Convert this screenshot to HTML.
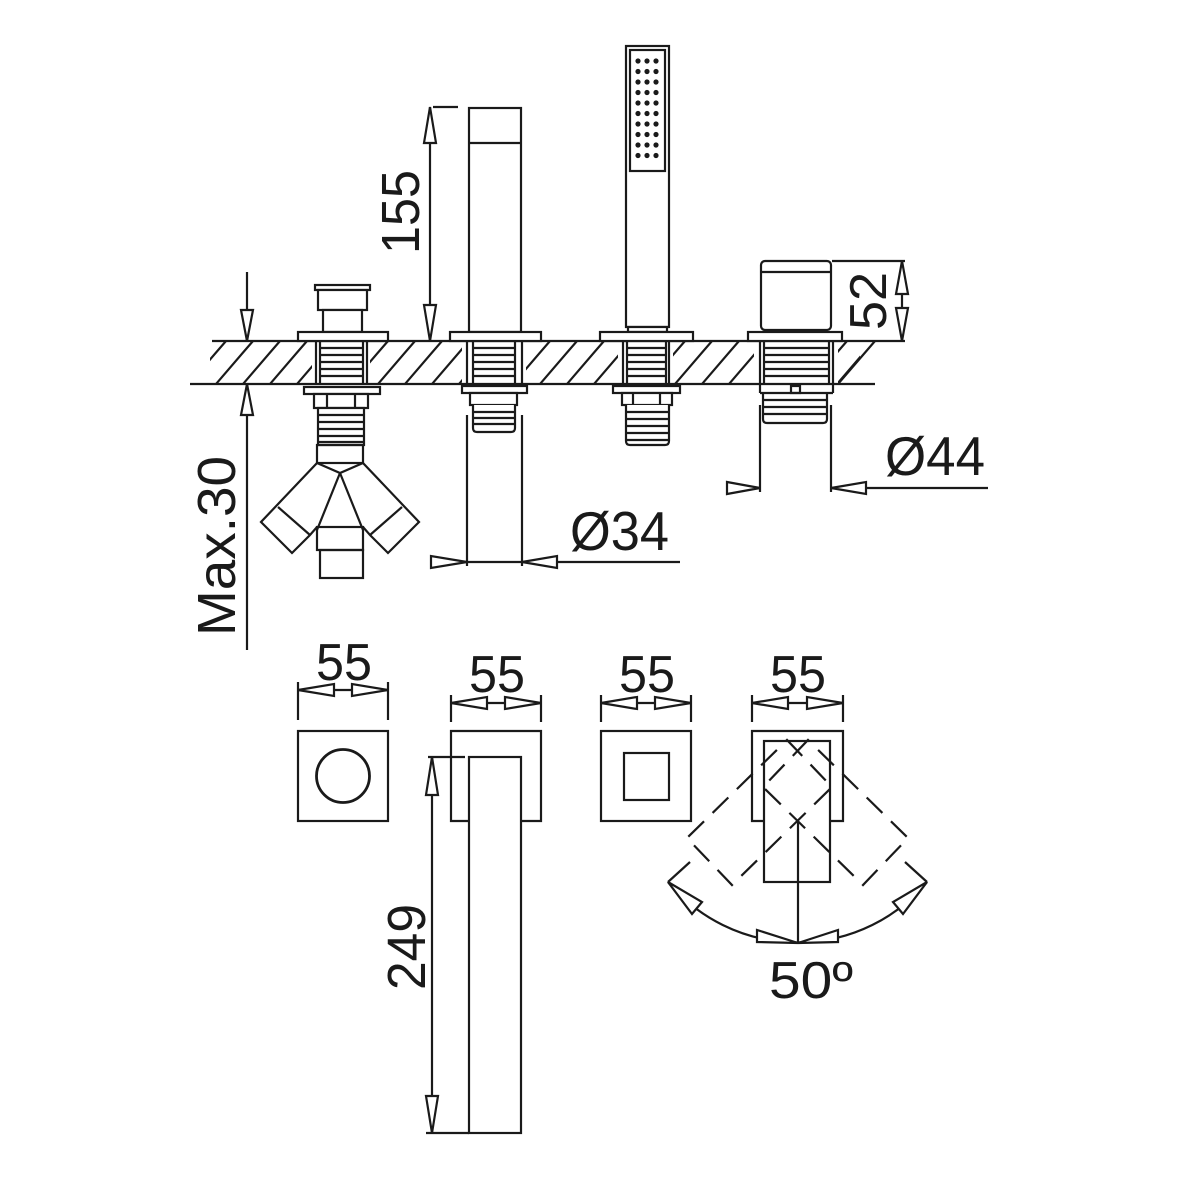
<!DOCTYPE html>
<html><head><meta charset="utf-8"><style>
html,body{margin:0;padding:0;background:#fff}
svg{display:block}
text{font-family:"Liberation Sans",sans-serif;fill:#1a1a1a}
</style></head><body>
<svg width="1181" height="1181" viewBox="0 0 1181 1181" xmlns="http://www.w3.org/2000/svg">
<defs>
<pattern id="h" patternUnits="userSpaceOnUse" x="0" y="341" width="27" height="43">
<path d="M0 43 L37 0 M-27 43 L10 0 M27 43 L64 0" stroke="#1a1a1a" stroke-width="2.2" fill="none"/>
</pattern>
</defs>
<g stroke="#1a1a1a" stroke-width="2.2" fill="none">
<!-- deck hatch -->
<polygon points="200,341 900,341 860,384 200,384" fill="url(#h)" stroke="none"/>
<rect x="200" y="341" width="10" height="43" fill="#fff" stroke="none"/>
<rect x="860" y="341" width="45" height="43" fill="#fff" stroke="none"/>
<polygon points="838,384 875,341 905,341 905,384" fill="#fff" stroke="none"/>
<line x1="838" y1="384" x2="875" y2="341"/>
<rect x="312" y="341" width="58" height="43" fill="#fff" stroke="none"/>
<rect x="462" y="341" width="64" height="43" fill="#fff" stroke="none"/>
<rect x="618" y="341" width="55" height="43" fill="#fff" stroke="none"/>
<rect x="754" y="341" width="84" height="43" fill="#fff" stroke="none"/>
<line x1="212" y1="341" x2="905" y2="341"/>
<line x1="190" y1="384" x2="875" y2="384"/>

<!-- fitting 1 -->
<rect x="315" y="285" width="55" height="5" fill="#fff"/>
<rect x="318" y="290" width="49" height="20" fill="#fff"/>
<rect x="323" y="310" width="39" height="22" fill="#fff"/>
<rect x="298" y="332" width="90" height="9" fill="#fff"/>
<line x1="316" y1="341" x2="316" y2="384"/><line x1="367" y1="341" x2="367" y2="384"/>
<line x1="320" y1="341" x2="320" y2="384"/><line x1="363" y1="341" x2="363" y2="384"/>
<path d="M320 348H363M320 355H363M320 362H363M320 369H363M320 376H363"/>
<rect x="304" y="387" width="76" height="7" fill="#fff"/>
<rect x="314" y="394" width="54" height="14" fill="#fff"/>
<line x1="327" y1="394" x2="327" y2="408"/><line x1="355" y1="394" x2="355" y2="408"/>
<rect x="318" y="408" width="46" height="37" fill="#fff"/>
<path d="M318 415H364M318 422H364M318 429H364M318 436H364M318 442H364"/>
<rect x="317" y="445" width="46" height="18"/>
<path d="M317 463 L340 473 L363 463"/>
<path d="M317 463 L261 522 L292 553 L310 535 L317 527"/>
<line x1="278" y1="507" x2="310" y2="535"/>
<path d="M363 463 L419 522 L388 553 L370 535 L363 527"/>
<line x1="402" y1="507" x2="370" y2="535"/>
<path d="M340 473 L317 530 M340 473 L363 530"/>
<rect x="317" y="527" width="46" height="23"/>
<rect x="320" y="550" width="43" height="28"/>

<!-- left dim -->
<line x1="247" y1="272" x2="247" y2="341"/>
<polygon points="247,341 241,310 253,310" fill="#fff"/>
<line x1="247" y1="384" x2="247" y2="650"/>
<polygon points="247,384 241,415 253,415" fill="#fff"/>

<!-- fitting 2 spout -->
<rect x="469" y="108" width="52" height="224" fill="#fff"/>
<line x1="469" y1="143" x2="521" y2="143"/>
<rect x="450" y="332" width="91" height="9" fill="#fff"/>
<line x1="467" y1="341" x2="467" y2="384"/><line x1="522" y1="341" x2="522" y2="384"/>
<line x1="473" y1="341" x2="473" y2="384"/><line x1="515" y1="341" x2="515" y2="384"/>
<path d="M473 348H515M473 355H515M473 362H515M473 369H515M473 376H515"/>
<rect x="462" y="386" width="65" height="7" fill="#fff"/>
<rect x="470" y="393" width="47" height="12" fill="#fff"/>
<path d="M473 405 V428 Q473 432 477 432 H511 Q515 432 515 428 V405" fill="#fff"/>
<path d="M473 412H515M473 418H515M473 424H515"/>
<line x1="467" y1="415" x2="467" y2="566"/><line x1="522" y1="415" x2="522" y2="566"/>
<line x1="467" y1="562" x2="680" y2="562"/>
<polygon points="467,562 431,556 431,568" fill="#fff"/>
<polygon points="522,562 557,556 557,568" fill="#fff"/>
<!-- 155 dim -->
<line x1="430" y1="107" x2="430" y2="341"/>
<line x1="433" y1="107" x2="458" y2="107"/>
<polygon points="430,107 424,143 436,143" fill="#fff"/>
<polygon points="430,341 424,305 436,305" fill="#fff"/>

<!-- fitting 3 hand shower -->
<rect x="626" y="46" width="43" height="281" fill="#fff"/>
<rect x="630" y="50" width="35" height="121"/>
<rect x="628" y="327" width="39" height="5" fill="#fff"/>
<rect x="600" y="332" width="93" height="9" fill="#fff"/>
<line x1="623" y1="341" x2="623" y2="384"/><line x1="669" y1="341" x2="669" y2="384"/>
<line x1="627" y1="341" x2="627" y2="384"/><line x1="666" y1="341" x2="666" y2="384"/>
<path d="M627 348H666M627 355H666M627 362H666M627 369H666M627 376H666"/>
<rect x="613" y="386" width="67" height="7" fill="#fff"/>
<rect x="622" y="393" width="50" height="12" fill="#fff"/>
<line x1="633" y1="393" x2="633" y2="405"/><line x1="660" y1="393" x2="660" y2="405"/>
<path d="M626 405 V441 Q626 445 630 445 H665 Q669 445 669 441 V405" fill="#fff"/>
<path d="M626 412H669M626 419H669M626 426H669M626 433H669M626 440H669"/>

<!-- fitting 4 diverter -->
<rect x="761" y="261" width="70" height="69" rx="4" fill="#fff"/>
<line x1="761" y1="272" x2="831" y2="272"/>
<rect x="748" y="332" width="94" height="9" fill="#fff"/>
<line x1="760" y1="341" x2="760" y2="393"/><line x1="833" y1="341" x2="833" y2="393"/>
<line x1="764" y1="341" x2="764" y2="384"/><line x1="829" y1="341" x2="829" y2="384"/>
<path d="M764 348H829M764 355H829M764 362H829M764 369H829M764 376H829"/>
<line x1="760" y1="393" x2="833" y2="393"/>
<rect x="791" y="386" width="9" height="7"/>
<path d="M763 393 V419 Q763 423 767 423 H823 Q827 423 827 419 V393"/>
<path d="M763 400H827M763 407H827M763 414H827"/>
<line x1="760" y1="405" x2="760" y2="492"/><line x1="831" y1="405" x2="831" y2="492"/>
<line x1="831" y1="488" x2="988" y2="488"/>
<polygon points="760,488 727,482 727,494" fill="#fff"/>
<polygon points="831,488 866,482 866,494" fill="#fff"/>
<!-- 52 dim -->
<line x1="832" y1="261" x2="905" y2="261"/>
<line x1="902" y1="261" x2="902" y2="341"/>
<polygon points="902,261 896,294 908,294" fill="#fff"/>
<polygon points="902,341 896,308 908,308" fill="#fff"/>

<!-- bottom views -->
<!-- 1 -->
<line x1="298" y1="682" x2="298" y2="720"/><line x1="388" y1="682" x2="388" y2="720"/>
<line x1="298" y1="690" x2="388" y2="690"/>
<polygon points="298,690 334,684 334,696" fill="#fff"/>
<polygon points="388,690 352,684 352,696" fill="#fff"/>
<rect x="298" y="731" width="90" height="90"/>
<circle cx="343" cy="776" r="26.5" stroke-width="2.8"/>
<!-- 2 -->
<line x1="451" y1="695" x2="451" y2="722"/><line x1="541" y1="695" x2="541" y2="722"/>
<line x1="451" y1="703" x2="541" y2="703"/>
<polygon points="451,703 487,697 487,709" fill="#fff"/>
<polygon points="541,703 505,697 505,709" fill="#fff"/>
<path d="M469 821 H451 V731 H541 V821 H521"/>
<rect x="469" y="757" width="52" height="376" fill="#fff"/>
<line x1="432" y1="757" x2="432" y2="1133"/>
<line x1="428" y1="757" x2="465" y2="757"/>
<line x1="426" y1="1133" x2="469" y2="1133"/>
<polygon points="432,757 426,795 438,795" fill="#fff"/>
<polygon points="432,1133 426,1096 438,1096" fill="#fff"/>
<!-- 3 -->
<line x1="601" y1="695" x2="601" y2="722"/><line x1="691" y1="695" x2="691" y2="722"/>
<line x1="601" y1="703" x2="691" y2="703"/>
<polygon points="601,703 637,697 637,709" fill="#fff"/>
<polygon points="691,703 655,697 655,709" fill="#fff"/>
<rect x="601" y="731" width="90" height="90"/>
<rect x="624" y="753" width="45" height="47"/>
<!-- 4 -->
<line x1="752" y1="695" x2="752" y2="722"/><line x1="843" y1="695" x2="843" y2="722"/>
<line x1="752" y1="703" x2="843" y2="703"/>
<polygon points="752,703 788,697 788,709" fill="#fff"/>
<polygon points="843,703 807,697 807,709" fill="#fff"/>
<path d="M764 821 H752 V731 H843 V821 H830"/>
<rect x="764" y="741" width="66" height="141"/>
<g stroke-dasharray="22 12">
<polygon points="787,740 832,787 732,885 687,838"/>
<polygon points="808,740 763,787 863,885 908,838"/>
</g>
<path d="M668 882 A169 169 0 0 0 927 882"/>
<line x1="798" y1="820" x2="798" y2="943"/>
<line x1="668" y1="882" x2="690" y2="862"/><line x1="927" y1="882" x2="905" y2="862"/>
<polygon points="668,882 702,902 692,914" fill="#fff"/>
<polygon points="927,882 893,902 903,914" fill="#fff"/>
<polygon points="798,943 757,930 757,942" fill="#fff"/>
<polygon points="798,943 838,930 838,942" fill="#fff"/>
</g>
<!-- shower holes -->
<g fill="#1a1a1a">
<g id="r"><circle cx="638" cy="61" r="2.6"/><circle cx="647" cy="61" r="2.6"/><circle cx="656" cy="61" r="2.6"/></g>
<use href="#r" y="10.5"/><use href="#r" y="21"/><use href="#r" y="31.5"/><use href="#r" y="42"/>
<use href="#r" y="52.5"/><use href="#r" y="63"/><use href="#r" y="73.5"/><use href="#r" y="84"/><use href="#r" y="94.5"/>
</g>
<!-- texts -->
<text x="570" y="550" font-size="55" textLength="99" lengthAdjust="spacingAndGlyphs">Ø34</text>
<text x="885" y="475" font-size="55" textLength="100" lengthAdjust="spacingAndGlyphs">Ø44</text>
<text transform="translate(419,254) rotate(-90)" font-size="54" textLength="84" lengthAdjust="spacingAndGlyphs">155</text>
<text transform="translate(886,330) rotate(-90)" font-size="52" textLength="58" lengthAdjust="spacingAndGlyphs">52</text>
<text transform="translate(235,636) rotate(-90)" font-size="54" textLength="180" lengthAdjust="spacingAndGlyphs">Max.30</text>
<text transform="translate(425,990) rotate(-90)" font-size="54" textLength="86" lengthAdjust="spacingAndGlyphs">249</text>
<text x="316" y="680" font-size="52" textLength="56" lengthAdjust="spacingAndGlyphs">55</text>
<text x="469" y="692" font-size="52" textLength="56" lengthAdjust="spacingAndGlyphs">55</text>
<text x="619" y="692" font-size="52" textLength="56" lengthAdjust="spacingAndGlyphs">55</text>
<text x="770" y="692" font-size="52" textLength="56" lengthAdjust="spacingAndGlyphs">55</text>
<text x="769" y="998" font-size="52" textLength="84" lengthAdjust="spacingAndGlyphs">50º</text>
</svg>
</body></html>
